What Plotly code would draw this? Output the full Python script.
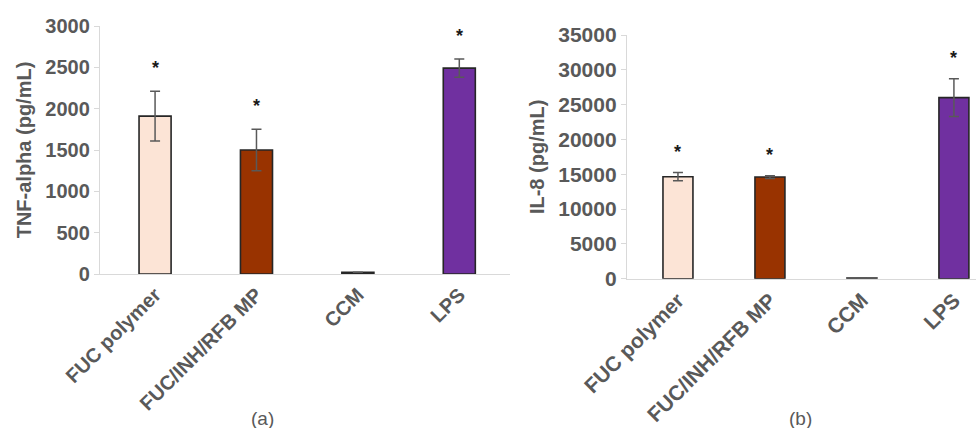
import plotly.graph_objects as go

# Treatment groups shared by both panels
categories = ["FUC polymer", "FUC/INH/RFB MP", "CCM", "LPS"]
bar_colors = ["#FCE4D6", "#993300", "#D9D9D9", "#7030A0"]
significant = [True, True, False, True]

# (a) TNF-alpha secretion, pg/mL (mean and SD)
tnf_mean = [1910, 1500, 20, 2490]
tnf_sd = [300, 250, 0, 110]

# (b) IL-8 secretion, pg/mL (mean and SD)
il8_mean = [14650, 14600, 100, 26000]
il8_sd = [600, 200, 0, 2700]

W, H = 976, 428
TEXT = "#595959"
AXIS = "#D9D9D9"
FONT = "Liberation Sans"

fig = go.Figure()


def add_panel(means, sds, xa, ya, bar_w, star_gap):
    fig.add_trace(go.Bar(
        x=categories, y=means, width=bar_w,
        marker=dict(color=bar_colors, line=dict(color="#262626", width=1.6)),
        error_y=dict(type="data", array=sds, visible=True,
                     color=TEXT, thickness=1.5, width=5),
        xaxis=xa, yaxis=ya, showlegend=False, hoverinfo="skip",
    ))
    for cat, m, s, sig in zip(categories, means, sds, significant):
        if sig:
            fig.add_annotation(
                x=cat, y=m + s + star_gap, xref=xa, yref=ya,
                text="*", showarrow=False, xanchor="center", yanchor="middle",
                font=dict(family=FONT, size=18, color="#1a1a1a", weight="bold"),
            )


add_panel(tnf_mean, tnf_sd, "x", "y", 0.316, 280)
add_panel(il8_mean, il8_sd, "x2", "y2", 0.326, 3000)


def xaxis(domain, rng, size, anchor):
    return dict(
        domain=domain, range=rng, anchor=anchor, automargin=False,
        showline=True, linecolor=AXIS, linewidth=1.3,
        ticks="", tickangle=-45, showgrid=False, zeroline=False,
        tickfont=dict(family=FONT, size=size, color=TEXT, weight="bold"),
    )


def yaxis(domain, rng, dtick, title, size, anchor, standoff):
    return dict(
        domain=domain, range=rng, dtick=dtick, anchor=anchor, automargin=False,
        tickformat="d", showline=True, linecolor=AXIS, linewidth=1.3,
        ticks="outside", ticklen=5, tickcolor=AXIS, showgrid=False, zeroline=False,
        tickfont=dict(family=FONT, size=size, color=TEXT, weight="bold"),
        title=dict(text=title, standoff=standoff,
                   font=dict(family=FONT, size=20, color=TEXT, weight="bold")),
    )


fig.update_layout(
    width=W, height=H, margin=dict(l=0, r=0, t=0, b=0),
    paper_bgcolor="white", plot_bgcolor="white",
    xaxis=xaxis([100 / W, 510 / W], [-0.543, 3.5], 20, "y"),
    yaxis=yaxis([1 - 274 / H, 1 - 26 / H], [0, 3000], 500,
                "TNF-alpha (pg/mL)", 20, "x", 8),
    xaxis2=xaxis([627 / W, 1.0], [-0.554, 3.24], 21, "y2"),
    yaxis2=yaxis([1 - 278.7 / H, 1 - 35 / H], [0, 35000], 5000,
                 "IL-8 (pg/mL)", 21, "x2", 8),
)

# Panel captions
for label, xc in (("(a)", 262), ("(b)", 800)):
    fig.add_annotation(
        x=xc / W, y=1 - 418 / H, xref="paper", yref="paper",
        text=label, showarrow=False, xanchor="center", yanchor="middle",
        font=dict(family=FONT, size=19, color=TEXT),
    )

fig.write_html("out.html")
